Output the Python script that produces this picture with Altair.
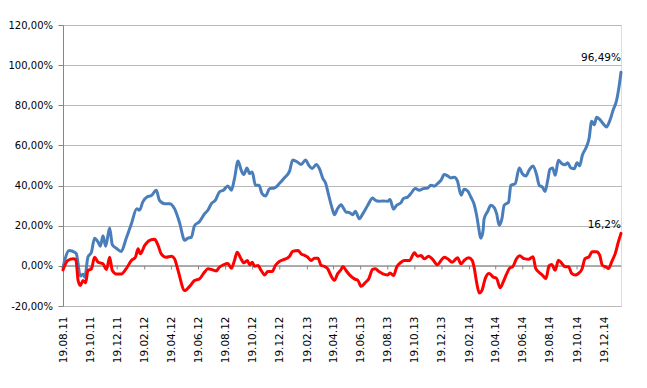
import altair as alt
import pandas as pd

# ---- data ----
START = "2011-08-19"
END = "2015-01-26"

tick_labels = ["19.08.11", "19.10.11", "19.12.11", "19.02.12", "19.04.12", "19.06.12",
               "19.08.12", "19.10.12", "19.12.12", "19.02.13", "19.04.13", "19.06.13",
               "19.08.13", "19.10.13", "19.12.13", "19.02.14", "19.04.14", "19.06.14",
               "19.08.14", "19.10.14", "19.12.14"]

y_ticks = [-20, 0, 20, 40, 60, 80, 100, 120]

# days since 19.08.11
blue_days = [0, 14, 26, 30, 39, 45, 49, 56, 64, 71, 79, 84, 90, 96, 105, 111, 120, 131, 142, 154,
             166, 172, 180, 189, 199, 210, 217, 229, 240, 251, 262, 274, 281, 289, 296, 307, 319,
             326, 334, 343, 352, 361, 371, 379, 386, 394, 401, 407, 414, 420, 426, 433, 441, 448,
             456, 465, 476, 487, 498, 510, 517, 529, 536, 546, 553, 561, 570, 577, 585, 591, 598,
             606, 611, 618, 626, 630, 637, 645, 652, 658, 667, 675, 686, 697, 703, 711, 720, 731,
             736, 744, 751, 761, 766, 776, 783, 793, 802, 811, 821, 828, 836, 843, 851, 858, 866,
             873, 881, 888, 896, 903, 911, 918, 926, 931, 936, 940, 945, 948, 956, 963, 971, 976,
             982, 988, 993, 1003, 1008, 1018, 1027, 1034, 1042, 1049, 1058, 1066, 1072, 1079, 1085,
             1091, 1096, 1102, 1108, 1115, 1123, 1130, 1136, 1143, 1151, 1157, 1163, 1169, 1177,
             1184, 1190, 1196, 1201, 1208, 1216, 1223, 1231, 1238, 1246, 1252, 1256]
blue_vals = [-0.7, 7.7, 6.8, 6.0, -5.0, -4.2, -5.7, 4.3, 6.8, 13.8, 11.8, 9.8, 15.0, 9.8, 18.8, 10.5,
             8.8, 7.2, 13.5, 21.0, 28.5, 27.7, 32.0, 34.3, 35.0, 37.7, 32.7, 31.0, 31.0, 28.5, 21.8,
             12.7, 13.8, 14.3, 20.0, 22.0, 26.0, 27.7, 31.0, 32.7, 36.8, 37.7, 39.8, 37.7, 43.5,
             52.2, 47.7, 45.5, 48.8, 46.0, 46.8, 40.2, 40.2, 36.0, 34.8, 38.5, 38.8, 41.0, 43.8,
             47.2, 52.7, 51.5, 50.5, 52.8, 50.2, 48.5, 50.5, 48.5, 43.5, 41.3, 35.2, 28.5, 25.5,
             28.5, 30.5, 29.3, 26.8, 26.5, 25.5, 27.2, 23.5, 26.0, 30.2, 33.8, 32.7, 32.2, 32.3,
             32.2, 33.0, 28.2, 30.2, 31.5, 33.5, 34.3, 36.0, 38.5, 37.7, 38.5, 38.8, 40.2, 39.7,
             41.0, 42.7, 45.5, 44.8, 43.8, 44.2, 42.2, 35.2, 38.2, 37.3, 34.3, 30.2, 25.2, 18.5,
             13.8, 16.8, 23.5, 27.2, 30.2, 28.9, 26.0, 20.2, 23.5, 30.2, 31.8, 40.1, 41.0, 48.8,
             45.9, 44.8, 47.6, 49.8, 45.4, 40.1, 39.3, 37.1, 42.6, 48.1, 48.8, 45.1, 52.6, 50.9,
             50.4, 51.4, 48.8, 48.4, 51.4, 49.8, 55.1, 58.7, 63.3, 72.0, 70.3, 74.1, 73.0, 70.8,
             69.2, 72.5, 77.4, 82.4, 89.9, 96.49]

red_days = [0, 11, 23, 29, 34, 39, 45, 51, 56, 64, 71, 79, 90, 98, 105, 111, 120, 131, 142, 154,
            163, 169, 174, 184, 195, 206, 214, 221, 232, 244, 251, 259, 274, 285, 296, 307, 319,
            326, 337, 345, 352, 361, 371, 379, 386, 392, 400, 407, 415, 420, 426, 431, 439, 446,
            454, 461, 471, 478, 487, 498, 510, 517, 529, 536, 544, 551, 558, 566, 574, 581, 588,
            596, 603, 611, 618, 626, 630, 637, 645, 656, 664, 671, 681, 688, 697, 703, 711, 720,
            731, 736, 744, 751, 761, 768, 780, 791, 798, 806, 813, 823, 832, 843, 851, 858, 866,
            876, 888, 896, 903, 913, 921, 926, 931, 937, 943, 948, 951, 959, 968, 976, 984, 991,
            998, 1006, 1012, 1021, 1028, 1038, 1048, 1058, 1064, 1072, 1079, 1087, 1094, 1100,
            1108, 1115, 1123, 1130, 1138, 1145, 1153, 1160, 1168, 1175, 1184, 1191, 1201, 1208,
            1214, 1222, 1228, 1235, 1243, 1250, 1256]
red_vals = [-2.0, 2.7, 3.5, 3.0, -7.3, -9.8, -7.3, -8.5, -2.3, -1.5, 4.3, 1.8, 1.0, -1.8, 4.3, -2.3,
            -4.0, -4.0, -1.5, 2.7, 4.3, 8.5, 6.0, 10.2, 12.7, 13.2, 10.2, 6.0, 4.3, 4.8, 3.5, -2.3,
            -12.3, -10.2, -7.3, -6.5, -3.0, -1.5, -2.0, -2.5, -0.7, 0.5, 1.2, -1.2, 2.7, 6.8, 3.8,
            1.5, 2.7, 0.5, 1.8, -0.2, 0.2, -2.3, -4.5, -2.8, -2.8, 0.2, 2.2, 3.2, 4.8, 7.2, 7.7,
            6.0, 5.2, 4.3, 2.7, 3.8, 3.8, 0.2, -0.2, -1.5, -4.8, -7.2, -4.0, -1.8, -0.3, -2.3,
            -4.5, -6.5, -7.3, -10.2, -8.2, -6.5, -1.8, -1.5, -2.8, -4.0, -4.5, -3.5, -4.8, -0.7,
            1.8, 2.7, 2.7, 6.5, 4.8, 5.2, 3.5, 4.8, 3.2, 0.5, 2.7, 4.3, 3.5, 1.8, 4.0, 1.0, 2.7,
            4.0, 2.7, -1.5, -8.2, -13.5, -12.3, -8.2, -6.0, -3.8, -5.5, -6.3, -10.9, -8.0, -4.3,
            -1.0, -0.5, 3.6, 5.0, 3.6, 3.3, 4.5, -1.3, -3.3, -4.6, -6.3, 0.0, 0.7, -2.2, 2.8, 1.2,
            -0.5, -0.5, -3.8, -4.6, -3.8, -1.7, 3.6, 4.5, 7.0, 7.0, 5.3, 0.3, -0.5, -1.3, 2.0,
            6.1, 11.9, 16.2]

end_labels = ["96,49%", "16,2%"]

# ---- build tables ----
start_ts = pd.Timestamp(START)
end_ts = pd.Timestamp(END)


def to_dates(days):
    return [(start_ts + pd.Timedelta(days=d)).strftime("%Y-%m-%d") for d in days]


def dt(ts):
    return alt.DateTime(year=ts.year, month=ts.month, date=ts.day, utc=True)


tick_ts = [pd.to_datetime(s, format="%d.%m.%y") for s in tick_labels]

blue_df = pd.DataFrame({"date": to_dates(blue_days), "value": blue_vals})
red_df = pd.DataFrame({"date": to_dates(red_days), "value": red_vals})
zero_df = pd.DataFrame({"date": [start_ts.strftime("%Y-%m-%d"), end_ts.strftime("%Y-%m-%d")],
                        "value": [0, 0]})
tick_df = pd.DataFrame({"date": [t.strftime("%Y-%m-%d") for t in tick_ts]})
blue_lab = pd.DataFrame({"date": [blue_df["date"].iloc[-1]], "value": [blue_vals[-1]],
                         "label": [end_labels[0]]})
red_lab = pd.DataFrame({"date": [red_df["date"].iloc[-1]], "value": [red_vals[-1]],
                        "label": [end_labels[1]]})

tick_values = [dt(t) for t in tick_ts]

FONT = "DejaVu Sans"
FS = 10.5
AXIS_GREY = "#868686"
GRID_GREY = "#b9b9b9"

x_scale = alt.Scale(type="utc", domain=[dt(start_ts), dt(end_ts)])
y_scale = alt.Scale(domain=[-20, 120], nice=False, zero=False)

y_axis = alt.Axis(
    values=y_ticks,
    labelExpr="replace(replace(format(datum.value, '.2f'), '.', ','), '\u2212', '-') + '%'",
    grid=True, gridColor=GRID_GREY, gridWidth=1,
    domainColor=AXIS_GREY, tickColor=AXIS_GREY, tickSize=5,
    labelPadding=5.5, labelFont=FONT, labelFontSize=10, labelColor="#000000",
    title=None, minExtent=55, maxExtent=55,
)

x_axis = alt.Axis(
    orient="bottom", values=tick_values,
    labelExpr="utcFormat(datum.value, '%d.%m.%y')",
    labelAngle=270, labelFont=FONT, labelFontSize=FS, labelColor="#000000",
    domain=False, ticks=False, tickSize=0, grid=False, labelPadding=10, title=None,
    labelOverlap=False,
)

X = alt.X("date:T", scale=x_scale, axis=x_axis)
Y = alt.Y("value:Q", scale=y_scale, axis=y_axis)

zero = alt.Chart(zero_df).mark_line(color=AXIS_GREY, strokeWidth=1).encode(x=X, y=Y)

ticks = alt.Chart(tick_df).mark_rule(color=AXIS_GREY, strokeWidth=1).encode(
    x=X, y=alt.datum(0), y2=alt.datum(-1.8),
)

blue = alt.Chart(blue_df).mark_line(color="#4a7ebb", strokeWidth=3, interpolate="monotone",
                                    strokeCap="round", strokeJoin="round").encode(x=X, y=Y)

red = alt.Chart(red_df).mark_line(color="#ff0000", strokeWidth=3, interpolate="monotone",
                                  strokeCap="round", strokeJoin="round").encode(x=X, y=Y)

blue_text = alt.Chart(blue_lab).mark_text(align="right", baseline="alphabetic", dy=-11,
                                          font=FONT, fontSize=FS, color="#000000").encode(
    x=X, y=Y, text="label:N",
)

red_text = alt.Chart(red_lab).mark_text(align="right", baseline="alphabetic", dy=-5,
                                        font=FONT, fontSize=FS, color="#000000").encode(
    x=X, y=Y, text="label:N",
)

chart = alt.layer(zero, ticks, blue, red, blue_text, red_text).properties(
    width=558, height=281,
    padding={"left": 0, "top": 12, "right": 10, "bottom": 5},
).configure_view(stroke=None).configure(background="white")

chart.save("out.html", embed_options={"renderer": "svg", "actions": False})
